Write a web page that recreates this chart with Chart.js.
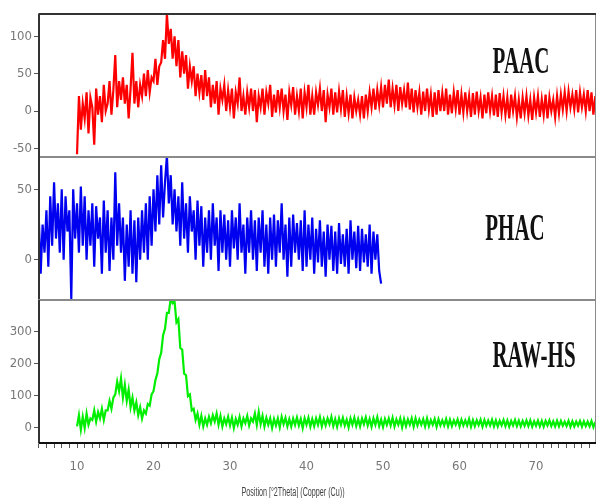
<!DOCTYPE html>
<html><head><meta charset="utf-8">
<script src="https://cdn.jsdelivr.net/npm/chart.js@4.4.1/dist/chart.umd.min.js"></script>
<style>
body{margin:0;background:#fff;width:596px;height:498px;overflow:hidden;position:relative}
canvas{position:absolute;left:0}
.lbl{position:absolute;font-family:"Liberation Serif","Times New Roman",serif;font-weight:bold;font-size:21px;color:#111;transform:translate(-50%,-50%) scaleY(1.8);white-space:nowrap;line-height:1}
#xt{position:absolute;left:293px;top:492px;font-family:"Liberation Sans",Arial,sans-serif;font-size:12px;color:#444;white-space:nowrap;line-height:1;transform:translate(-50%,-50%)}
</style></head><body>
<canvas id="c1" width="596" height="158" style="top:0"></canvas>
<canvas id="c2" width="596" height="143" style="top:157px"></canvas>
<canvas id="c3" width="596" height="199" style="top:299px"></canvas>
<div class="lbl" style="left:521px;top:61px">PAAC</div>
<div class="lbl" style="left:515px;top:228px">PHAC</div>
<div class="lbl" style="left:534px;top:355px">RAW-HS</div>
<div id="xt"></div>
<script>
// ---- data (counts, step 0.25 °2θ) ----
const stepSize = 0.25;
const paacStart = 10;
const paacCounts = [
-58,20,-25,10, -10,25,-30,18, 5,-45,30,-5, 20,-15,35,0, 10,40,-5,28,
75,5,40,15, 45,10,35,-10, 30,78,10,40, 5,35,20,50, 20,55,25,45,
40,70,35,60, 65,95,70,130, 90,110,70,100, 60,95,45,80, 50,75,30,60,
40,60,20,50, 25,48,15,55, 20,45,5,35, 10,40,-5,30, 15,35,0,28,
5,30,-10,25, 10,45,0,20, -5,25,5,30, 0,28,-15,20, 5,30,-5,25,
10,35,-8,22, -2,28,5,30, 0,22,-12,25, 8,32,-5,20, 0,30,-10,25,
5,35,-5,20, -5,25,8,30, 0,28,-15,22, 5,30,-5,25, -2,26,3,28,
-8,20,-3,22, -10,18,0,15, -5,20,-10,22, 0,25,5,30, 2,28,8,32,
5,35,10,42, 5,30,8,35, 0,32,10,28, 5,38,2,30, -2,28,5,25,
-5,26,0,30, 2,22,-8,25, -5,28,0,24, 0,30,-5,22, -3,25,3,28,
-5,22,-2,25, 0,20,-8,24, -5,26,0,18, -10,22,-3,25, 0,20,-6,22,
-8,24,-2,20, -5,18,-10,22, 0,20,-8,15, -10,18,-3,20, -6,15,-12,18,
-2,20,-8,16, -5,22,-10,18, 0,15,-8,20, -3,22,2,25, 0,26,5,22,
2,28,-2,25, 5,22,0,28, 0,25,-5,20
];
const phacStart = 5;
const phacCounts = [
30,-10,25,5, 35,-5,45,10, 55,15,40,5, 50,0,45,20, 35,-28,50,15,
40,5,52,10, 45,0,35,10, 40,-5,38,15, 30,-10,42,5, 35,-8,30,0,
62,10,40,5, 30,-15,25,-5, 35,-10,28,-16, 30,0,35,5, 40,0,45,10,
50,20,60,25, 67,30,55,74, 40,60,25,50, 20,45,10,55, 15,40,5,45,
20,35,0,42, 10,38,-5,30, 5,35,0,40, 10,30,-8,35, 5,32,0,28,
-5,35,8,30, 0,40,5,25, -10,30,5,35, 0,28,-8,30, 5,35,-5,25,
-10,30,0,32, -5,28,5,40, 0,25,-12,30, -5,32,5,26, 0,28,-8,35,
-5,25,0,30, -10,22,-2,28, -5,20,-12,25, 0,24,-8,20, -10,26,-3,18,
-5,22,-10,28, 0,20,-6,24, -8,22,-2,18, -5,25,-10,20, 0,18,-8,-17
];
const rawStart = 10;
const rawCounts = [
5,40,-5,35, 0,45,10,30, 25,55,20,50, 30,60,25,55, 55,85,60,95,
105,145,115,155, 95,135,85,120, 65,95,55,80, 40,65,30,55, 45,75,70,105,
115,150,170,215, 235,290,310,360, 360,405,390,395, 330,340,250,245, 170,165,100,105,
55,60,25,45, 10,38,5,30, 10,35,15,40, 20,45,10,38, 5,30,12,35,
8,32,0,28, 10,35,5,30, 15,38,8,30, 20,45,10,50, 12,38,5,32,
10,30,0,28, 8,30,2,35, 12,32,5,28, 5,30,10,33, 8,28,0,30,
10,32,4,28, 6,30,10,34, 5,28,8,30, 12,35,6,28, 4,30,10,32,
8,26,2,30, 10,32,6,28, 5,30,12,33, 8,28,4,30, 10,34,6,26,
3,28,10,30, 8,32,5,27, 10,30,2,28, 6,27,10,30, 4,30,8,26,
10,28,5,30, 6,25,10,28, 4,27,8,24, 8,28,5,26, 6,24,10,27,
5,26,8,24, 8,28,4,25, 6,24,9,26, 4,25,7,23, 8,26,5,24,
5,23,8,25, 6,24,4,22, 8,25,6,23, 5,22,7,24, 6,24,4,21,
7,23,5,22, 4,22,8,24, 6,21,5,23, 5,22,7,20, 6,23,4,21,
5,20,7,22, 4,21,6,20, 5,22,3,19
];
const paacTicks = [-50, 0, 50, 100];
const phacTicks = [0, 50];
const rawTicks = [0, 100, 200, 300];
const xLabelTicks = [10, 20, 30, 40, 50, 60, 70];
const xTitle = 'Position [°2Theta] (Copper (Cu))';

const X_MIN = 5.03, X_MAX = 77.84;
const tickFont = {family: '"Liberation Sans Narrow","DejaVu Sans Condensed",sans-serif', size: 13};

function toPts(start, arr) {
  return arr.map((v, i) => ({x: start + i * stepSize, y: v}));
}

const framePlugin = {
  id: 'frame',
  afterDraw(chart, args, o) {
    const {ctx, chartArea: a} = chart;
    ctx.save();
    ctx.strokeStyle = '#8a8a8a';
    ctx.lineWidth = 2;
    ctx.strokeRect(a.left, a.top, a.right - a.left, a.bottom - a.top);
    if (o.topDark) {
      ctx.strokeStyle = '#333';
      ctx.beginPath(); ctx.moveTo(a.left, a.top); ctx.lineTo(a.right, a.top); ctx.stroke();
    }
    ctx.strokeStyle = '#333';
    ctx.beginPath(); ctx.moveTo(a.left, a.top); ctx.lineTo(a.left, a.bottom); ctx.stroke();
    if (o.bottomDark) {
      ctx.strokeStyle = '#111';
      ctx.beginPath(); ctx.moveTo(a.left, a.bottom); ctx.lineTo(a.right, a.bottom); ctx.stroke();
    }
    ctx.restore();
  }
};

function panel(id, pts, color, lw, yMin, yMax, yTicks, pad, showX, frameOpts) {
  const xScale = {
    type: 'linear', min: X_MIN, max: X_MAX, display: showX,
    afterBuildTicks: s => { const t = []; for (let v = 5; v <= 77; v++) t.push({value: v}); s.ticks = t; },
    ticks: {autoSkip: false, maxRotation: 0, font: tickFont, color: '#777', padding: 11,
      callback: v => xLabelTicks.includes(v) ? String(v) : ''},
    grid: {drawOnChartArea: false, drawTicks: true, tickLength: 5, tickColor: '#555'},
    border: {display: true, color: '#111', width: 2},
    title: {display: false},
    afterFit: s => { if (showX) s.height = 55; s.paddingLeft = 0; s.paddingRight = 0; }
  };
  return new Chart(document.getElementById(id), {
    type: 'line',
    data: {datasets: [{data: pts, borderColor: color, borderWidth: lw, pointRadius: 0, tension: 0, fill: false, borderJoinStyle: 'miter'}]},
    options: {
      responsive: false, animation: false, devicePixelRatio: 1, parsing: false, normalized: true,
      layout: {padding: pad},
      plugins: {legend: {display: false}, tooltip: {enabled: false}, frame: frameOpts},
      scales: {
        x: xScale,
        y: {
          min: yMin, max: yMax,
          afterBuildTicks: s => { s.ticks = yTicks.map(v => ({value: v})); },
          afterFit: s => { s.width = 39; s.paddingTop = 0; s.paddingBottom = 0; },
          ticks: {font: tickFont, color: '#777', padding: 2},
          grid: {drawOnChartArea: false, tickLength: 5, tickColor: '#555'},
          border: {display: true, color: '#333', width: 2}
        }
      }
    },
    plugins: [framePlugin]
  });
}

panel('c1', toPts(paacStart, paacCounts), '#ff0000', 2.2, -61.6, 130, paacTicks, {top: 14, right: 0, bottom: 1, left: 0}, false, {topDark: true});
panel('c2', toPts(phacStart, phacCounts), '#0000f0', 2.2, -28.6, 72.9, phacTicks, {top: 0, right: 0, bottom: 0, left: 0}, false, {});
panel('c3', toPts(rawStart, rawCounts), '#00ee00', 2.2, -46.9, 400, rawTicks, {top: 1, right: 0, bottom: 0, left: 0}, true, {bottomDark: true});

const xt = document.getElementById('xt');
xt.textContent = xTitle;
const w = xt.offsetWidth;
xt.style.transform = 'translate(-50%,-50%) scaleX(' + (103 / w).toFixed(3) + ')';
</script>
</body></html>
